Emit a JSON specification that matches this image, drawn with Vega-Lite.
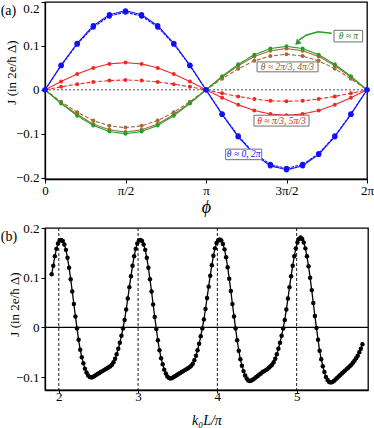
{
  "$schema": "https://vega.github.io/schema/vega-lite/v6.json",
  "padding": 0,
  "spacing": 4,
  "config": {
    "font": "Liberation Serif",
    "view": {"stroke": "black", "strokeWidth": 1.3},
    "axis": {"labelFont": "Liberation Serif", "titleFont": "Liberation Serif", "labelFontSize": 13, "titleFontWeight": "normal", "domainColor": "black", "domainWidth": 1.3, "tickColor": "black", "tickSize": 4, "labelColor": "black", "titleColor": "black", "grid": false, "labelFlush": false}
  },
  "vconcat": [
    {
      "width": 322,
      "height": 177,
      "layer": [
        {
          "data": {"values": [{"phi": 0, "J": 0}, {"phi": 2, "J": 0}]},
          "mark": {"type": "line", "color": "#888888", "strokeDash": [2, 2], "strokeWidth": 1.5},
          "encoding": {
            "x": {"field": "phi", "type": "quantitative", "scale": {"domain": [0, 2], "nice": false},
                  "axis": {"values": [0, 0.5, 1, 1.5, 2], "labelExpr": "datum.value == 0 ? '0' : datum.value == 0.5 ? 'π/2' : datum.value == 1 ? 'π' : datum.value == 1.5 ? '3π/2' : '2π'", "title": "ϕ", "titleFontSize": 18, "titleFontStyle": "italic", "titlePadding": 1, "labelPadding": 1}},
            "y": {"field": "J", "type": "quantitative", "scale": {"domain": [-0.203, 0.2], "nice": false},
                  "axis": {"values": [-0.2, -0.1, 0, 0.1, 0.2], "format": ".1~f", "title": "J (in 2e/ħ Δ)", "titleFontSize": 13, "titleY": 70, "titleX": -27, "titleBaseline": "bottom", "labelPadding": 2, "labelFlush": 0.5}}
          }
        },
        {
          "data": {"name": "curves"},
          "transform": [{"fold": ["bs", "bd", "rs", "rd", "ns", "nd", "g"], "as": ["series", "J"]}],
          "layer": [
            {
              "mark": {"type": "line", "strokeWidth": 1.1},
              "encoding": {
                "x": {"field": "phi", "type": "quantitative"},
                "y": {"field": "J", "type": "quantitative"},
                "color": {"field": "series", "type": "nominal", "scale": {"domain": ["ns", "nd", "g", "rs", "rd", "bs", "bd"], "range": ["#a36b3a", "#a36b3a", "#22a022", "#f02828", "#f02828", "#1010ff", "#1010ff"]}, "legend": null},
                "strokeDash": {"field": "series", "type": "nominal", "scale": {"domain": ["ns", "nd", "g", "rs", "rd", "bs", "bd"], "range": [[1, 0], [4, 2], [1, 0], [1, 0], [4, 2], [1, 0], [3, 1]]}, "legend": null}
              }
            },
            {
              "transform": [{"filter": "datum.series != 'bs' && datum.series != 'bd'"}],
              "mark": {"type": "circle", "size": 16, "opacity": 1},
              "encoding": {
                "x": {"field": "phi", "type": "quantitative"},
                "y": {"field": "J", "type": "quantitative"},
                "color": {"field": "series", "type": "nominal", "legend": null}
              }
            },
            {
              "transform": [{"filter": "datum.series == 'bs' || datum.series == 'bd'"}],
              "mark": {"type": "circle", "size": 28, "opacity": 1},
              "encoding": {
                "x": {"field": "phi", "type": "quantitative"},
                "y": {"field": "J", "type": "quantitative"},
                "color": {"field": "series", "type": "nominal", "legend": null}
              }
            }
          ]
        },
        {
          "data": {"values": [{"phi": 1.781, "J": 0.1288}, {"phi": 1.696, "J": 0.132}, {"phi": 1.621, "J": 0.1243}, {"phi": 1.578, "J": 0.113}]},
          "mark": {"type": "line", "color": "#22a022", "strokeWidth": 1.5},
          "encoding": {"x": {"field": "phi", "type": "quantitative"}, "y": {"field": "J", "type": "quantitative"}}
        },
        {
          "data": {"values": [{"phi": 1.567, "J": 0.107}]},
          "mark": {"type": "point", "shape": "triangle-up", "filled": true, "color": "#22a022", "size": 45, "angle": 225, "opacity": 1},
          "encoding": {"x": {"field": "phi", "type": "quantitative"}, "y": {"field": "J", "type": "quantitative"}}
        },
        {
          "data": {"name": "boxes"},
          "mark": {"type": "rect", "fill": "white", "stroke": "#707070", "strokeWidth": 1},
          "encoding": {
            "x": {"field": "phi", "type": "quantitative"},
            "x2": {"field": "phi2"},
            "y": {"field": "J", "type": "quantitative"},
            "y2": {"field": "J2"}
          }
        },
        {
          "data": {"name": "boxes"},
          "mark": {"type": "text", "font": "Liberation Serif", "fontStyle": "italic", "fontSize": 9.5, "align": "center", "baseline": "middle"},
          "encoding": {
            "x": {"field": "tphi", "type": "quantitative"},
            "y": {"field": "tJ", "type": "quantitative"},
            "text": {"field": "label"},
            "color": {"field": "tcolor", "type": "nominal", "scale": null}
          }
        },
        {
          "data": {"values": [{"phi": -0.227, "J": 0.18, "label": "(a)"}]},
          "mark": {"type": "text", "font": "Liberation Serif", "fontSize": 14, "color": "black", "align": "center", "baseline": "middle"},
          "encoding": {"x": {"field": "phi", "type": "quantitative"}, "y": {"field": "J", "type": "quantitative"}, "text": {"field": "label"}}
        }
      ]
    },
    {
      "width": 323,
      "height": 162,
      "layer": [
        {
          "data": {"values": [{"k": 1.826, "J": 0}, {"k": 5.9, "J": 0}]},
          "mark": {"type": "line", "color": "black", "strokeWidth": 1.2},
          "encoding": {
            "x": {"field": "k", "type": "quantitative", "scale": {"domain": [1.826, 5.9], "nice": false, "zero": false},
                  "axis": {"values": [2, 3, 4, 5], "format": "d", "title": "k₀L/π", "titleFontSize": 14, "titleFontStyle": "italic", "titlePadding": 10, "labelPadding": -3, "tickSize": 3}},
            "y": {"field": "J", "type": "quantitative", "scale": {"domain": [-0.126, 0.2], "nice": false},
                  "axis": {"values": [-0.1, 0, 0.1, 0.2], "format": ".1~f", "title": "J (in 2e/ħ Δ)", "titleFontSize": 13, "titleY": 76, "titleX": -24, "titleBaseline": "bottom", "labelPadding": 2}}
          }
        },
        {
          "data": {"values": [{"k": 2}, {"k": 3}, {"k": 4}, {"k": 5}]},
          "mark": {"type": "rule", "color": "black", "strokeDash": [3, 2], "strokeWidth": 0.9},
          "encoding": {"x": {"field": "k", "type": "quantitative"}}
        },
        {
          "data": {"name": "sweep"},
          "mark": {"type": "line", "color": "black", "strokeWidth": 1.3},
          "encoding": {"x": {"field": "k", "type": "quantitative"}, "y": {"field": "J", "type": "quantitative"}}
        },
        {
          "data": {"name": "sweep"},
          "mark": {"type": "circle", "color": "black", "size": 20, "opacity": 1},
          "encoding": {"x": {"field": "k", "type": "quantitative"}, "y": {"field": "J", "type": "quantitative"}}
        },
        {
          "data": {"values": [{"k": 1.372, "J": 0.181, "label": "(b)"}]},
          "mark": {"type": "text", "font": "Liberation Serif", "fontSize": 14, "color": "black", "align": "center", "baseline": "middle"},
          "encoding": {"x": {"field": "k", "type": "quantitative"}, "y": {"field": "J", "type": "quantitative"}, "text": {"field": "label"}}
        }
      ]
    }
  ],
  "datasets": {
    "curves": [
      {"phi": 0.0, "bs": 0, "bd": 0, "rs": 0, "rd": 0, "ns": 0, "nd": 0, "g": 0},
      {"phi": 0.1, "bs": 0.056, "bd": 0.055, "rs": 0.019, "rd": 0.007, "ns": -0.030, "nd": -0.027, "g": -0.031},
      {"phi": 0.2, "bs": 0.106, "bd": 0.104, "rs": 0.036, "rd": 0.013, "ns": -0.056, "nd": -0.051, "g": -0.059},
      {"phi": 0.3, "bs": 0.146, "bd": 0.143, "rs": 0.050, "rd": 0.018, "ns": -0.078, "nd": -0.070, "g": -0.081},
      {"phi": 0.4, "bs": 0.171, "bd": 0.168, "rs": 0.059, "rd": 0.021, "ns": -0.091, "nd": -0.082, "g": -0.095},
      {"phi": 0.5, "bs": 0.180, "bd": 0.177, "rs": 0.062, "rd": 0.0225, "ns": -0.096, "nd": -0.086, "g": -0.100},
      {"phi": 0.6, "bs": 0.171, "bd": 0.168, "rs": 0.059, "rd": 0.021, "ns": -0.091, "nd": -0.082, "g": -0.095},
      {"phi": 0.7, "bs": 0.146, "bd": 0.143, "rs": 0.050, "rd": 0.018, "ns": -0.078, "nd": -0.070, "g": -0.081},
      {"phi": 0.8, "bs": 0.106, "bd": 0.104, "rs": 0.036, "rd": 0.013, "ns": -0.056, "nd": -0.051, "g": -0.059},
      {"phi": 0.9, "bs": 0.056, "bd": 0.055, "rs": 0.019, "rd": 0.007, "ns": -0.030, "nd": -0.027, "g": -0.031},
      {"phi": 1.0, "bs": 0, "bd": 0, "rs": 0, "rd": 0, "ns": 0, "nd": 0, "g": 0},
      {"phi": 1.1, "bs": -0.056, "bd": -0.055, "rs": -0.018, "rd": -0.008, "ns": 0.029, "nd": 0.025, "g": 0.031},
      {"phi": 1.2, "bs": -0.107, "bd": -0.105, "rs": -0.034, "rd": -0.015, "ns": 0.055, "nd": 0.048, "g": 0.058},
      {"phi": 1.3, "bs": -0.147, "bd": -0.145, "rs": -0.047, "rd": -0.021, "ns": 0.076, "nd": 0.066, "g": 0.080},
      {"phi": 1.4, "bs": -0.173, "bd": -0.170, "rs": -0.055, "rd": -0.025, "ns": 0.089, "nd": 0.077, "g": 0.094},
      {"phi": 1.5, "bs": -0.182, "bd": -0.179, "rs": -0.058, "rd": -0.026, "ns": 0.094, "nd": 0.081, "g": 0.099},
      {"phi": 1.6, "bs": -0.173, "bd": -0.170, "rs": -0.055, "rd": -0.025, "ns": 0.089, "nd": 0.077, "g": 0.094},
      {"phi": 1.7, "bs": -0.147, "bd": -0.145, "rs": -0.047, "rd": -0.021, "ns": 0.076, "nd": 0.066, "g": 0.080},
      {"phi": 1.8, "bs": -0.107, "bd": -0.105, "rs": -0.034, "rd": -0.015, "ns": 0.055, "nd": 0.048, "g": 0.058},
      {"phi": 1.9, "bs": -0.056, "bd": -0.055, "rs": -0.018, "rd": -0.008, "ns": 0.029, "nd": 0.025, "g": 0.031},
      {"phi": 2.0, "bs": 0, "bd": 0, "rs": 0, "rd": 0, "ns": 0, "nd": 0, "g": 0}
    ],
    "boxes": [
      {"phi": 1.795, "phi2": 1.973, "J": 0.109, "J2": 0.1355, "tphi": 1.884, "tJ": 0.122, "label": "θ ≈ π", "tcolor": "#1a7a1a"},
      {"phi": 1.317, "phi2": 1.696, "J": 0.041, "J2": 0.0636, "tphi": 1.506, "tJ": 0.052, "label": "θ ≈ 2π/3, 4π/3", "tcolor": "#8a5a2a"},
      {"phi": 1.298, "phi2": 1.640, "J": -0.0825, "J2": -0.0578, "tphi": 1.469, "tJ": -0.070, "label": "θ ≈ π/3, 5π/3", "tcolor": "#e02020"},
      {"phi": 1.122, "phi2": 1.346, "J": -0.159, "J2": -0.135, "tphi": 1.234, "tJ": -0.147, "label": "θ ≈ 0, 2π", "tcolor": "#1010ff"}
    ],
    "sweep": [
      {"k": 1.91, "J": 0.107}, {"k": 1.93, "J": 0.124}, {"k": 1.95, "J": 0.143}, {"k": 1.97, "J": 0.158}, {"k": 1.99, "J": 0.169},
      {"k": 2.01, "J": 0.175}, {"k": 2.03, "J": 0.176}, {"k": 2.05, "J": 0.174}, {"k": 2.07, "J": 0.167}, {"k": 2.09, "J": 0.156},
      {"k": 2.11, "J": 0.140}, {"k": 2.13, "J": 0.120}, {"k": 2.15, "J": 0.097}, {"k": 2.17, "J": 0.072}, {"k": 2.19, "J": 0.047},
      {"k": 2.21, "J": 0.022}, {"k": 2.23, "J": -0.002}, {"k": 2.25, "J": -0.025}, {"k": 2.27, "J": -0.045}, {"k": 2.29, "J": -0.060},
      {"k": 2.31, "J": -0.072}, {"k": 2.33, "J": -0.083}, {"k": 2.35, "J": -0.091}, {"k": 2.37, "J": -0.097}, {"k": 2.39, "J": -0.100},
      {"k": 2.41, "J": -0.101}, {"k": 2.43, "J": -0.100}, {"k": 2.45, "J": -0.098}, {"k": 2.47, "J": -0.096}, {"k": 2.49, "J": -0.094},
      {"k": 2.51, "J": -0.092}, {"k": 2.53, "J": -0.090}, {"k": 2.55, "J": -0.088}, {"k": 2.57, "J": -0.086}, {"k": 2.59, "J": -0.084},
      {"k": 2.61, "J": -0.082}, {"k": 2.63, "J": -0.080}, {"k": 2.65, "J": -0.078}, {"k": 2.67, "J": -0.075}, {"k": 2.69, "J": -0.070},
      {"k": 2.71, "J": -0.063}, {"k": 2.73, "J": -0.054}, {"k": 2.75, "J": -0.043}, {"k": 2.77, "J": -0.031}, {"k": 2.79, "J": -0.017},
      {"k": 2.81, "J": -0.002}, {"k": 2.83, "J": 0.015}, {"k": 2.85, "J": 0.036}, {"k": 2.87, "J": 0.058}, {"k": 2.89, "J": 0.081},
      {"k": 2.91, "J": 0.103}, {"k": 2.93, "J": 0.124}, {"k": 2.95, "J": 0.143}, {"k": 2.97, "J": 0.158}, {"k": 2.99, "J": 0.169},
      {"k": 3.01, "J": 0.175}, {"k": 3.03, "J": 0.176}, {"k": 3.05, "J": 0.174}, {"k": 3.07, "J": 0.167}, {"k": 3.09, "J": 0.156},
      {"k": 3.11, "J": 0.140}, {"k": 3.13, "J": 0.120}, {"k": 3.15, "J": 0.097}, {"k": 3.17, "J": 0.072}, {"k": 3.19, "J": 0.046},
      {"k": 3.21, "J": 0.021}, {"k": 3.23, "J": -0.003}, {"k": 3.25, "J": -0.026}, {"k": 3.27, "J": -0.046}, {"k": 3.29, "J": -0.062},
      {"k": 3.31, "J": -0.074}, {"k": 3.33, "J": -0.085}, {"k": 3.35, "J": -0.093}, {"k": 3.37, "J": -0.099}, {"k": 3.39, "J": -0.102},
      {"k": 3.41, "J": -0.103}, {"k": 3.43, "J": -0.102}, {"k": 3.45, "J": -0.100}, {"k": 3.47, "J": -0.098}, {"k": 3.49, "J": -0.096},
      {"k": 3.51, "J": -0.094}, {"k": 3.53, "J": -0.092}, {"k": 3.55, "J": -0.090}, {"k": 3.57, "J": -0.088}, {"k": 3.59, "J": -0.086},
      {"k": 3.61, "J": -0.084}, {"k": 3.63, "J": -0.082}, {"k": 3.65, "J": -0.080}, {"k": 3.67, "J": -0.077}, {"k": 3.69, "J": -0.073},
      {"k": 3.71, "J": -0.066}, {"k": 3.73, "J": -0.057}, {"k": 3.75, "J": -0.046}, {"k": 3.77, "J": -0.033}, {"k": 3.79, "J": -0.018},
      {"k": 3.81, "J": -0.002}, {"k": 3.83, "J": 0.016}, {"k": 3.85, "J": 0.037}, {"k": 3.87, "J": 0.059}, {"k": 3.89, "J": 0.082},
      {"k": 3.91, "J": 0.104}, {"k": 3.93, "J": 0.125}, {"k": 3.95, "J": 0.144}, {"k": 3.97, "J": 0.159}, {"k": 3.99, "J": 0.170},
      {"k": 4.01, "J": 0.175}, {"k": 4.03, "J": 0.177}, {"k": 4.05, "J": 0.175}, {"k": 4.07, "J": 0.168}, {"k": 4.09, "J": 0.157},
      {"k": 4.11, "J": 0.141}, {"k": 4.13, "J": 0.121}, {"k": 4.15, "J": 0.098}, {"k": 4.17, "J": 0.073}, {"k": 4.19, "J": 0.047},
      {"k": 4.21, "J": 0.022}, {"k": 4.23, "J": -0.002}, {"k": 4.25, "J": -0.026}, {"k": 4.27, "J": -0.047}, {"k": 4.29, "J": -0.064},
      {"k": 4.31, "J": -0.077}, {"k": 4.33, "J": -0.088}, {"k": 4.35, "J": -0.097}, {"k": 4.37, "J": -0.103}, {"k": 4.39, "J": -0.107},
      {"k": 4.41, "J": -0.108}, {"k": 4.43, "J": -0.107}, {"k": 4.45, "J": -0.105}, {"k": 4.47, "J": -0.103}, {"k": 4.49, "J": -0.100},
      {"k": 4.51, "J": -0.098}, {"k": 4.53, "J": -0.095}, {"k": 4.55, "J": -0.093}, {"k": 4.57, "J": -0.090}, {"k": 4.59, "J": -0.088},
      {"k": 4.61, "J": -0.086}, {"k": 4.63, "J": -0.084}, {"k": 4.65, "J": -0.081}, {"k": 4.67, "J": -0.078}, {"k": 4.69, "J": -0.075},
      {"k": 4.71, "J": -0.070}, {"k": 4.73, "J": -0.063}, {"k": 4.75, "J": -0.054}, {"k": 4.77, "J": -0.043}, {"k": 4.79, "J": -0.031},
      {"k": 4.81, "J": -0.017}, {"k": 4.83, "J": -0.002}, {"k": 4.85, "J": 0.015}, {"k": 4.87, "J": 0.036}, {"k": 4.89, "J": 0.058},
      {"k": 4.91, "J": 0.081}, {"k": 4.93, "J": 0.103}, {"k": 4.95, "J": 0.124}, {"k": 4.97, "J": 0.143}, {"k": 4.99, "J": 0.159},
      {"k": 5.01, "J": 0.171}, {"k": 5.03, "J": 0.178}, {"k": 5.05, "J": 0.181}, {"k": 5.07, "J": 0.178}, {"k": 5.09, "J": 0.171},
      {"k": 5.11, "J": 0.159}, {"k": 5.13, "J": 0.143}, {"k": 5.15, "J": 0.123}, {"k": 5.17, "J": 0.100}, {"k": 5.19, "J": 0.075},
      {"k": 5.21, "J": 0.049}, {"k": 5.23, "J": 0.023}, {"k": 5.25, "J": -0.001}, {"k": 5.27, "J": -0.025}, {"k": 5.29, "J": -0.047},
      {"k": 5.31, "J": -0.064}, {"k": 5.33, "J": -0.078}, {"k": 5.35, "J": -0.090}, {"k": 5.37, "J": -0.100}, {"k": 5.39, "J": -0.106},
      {"k": 5.41, "J": -0.110}, {"k": 5.43, "J": -0.111}, {"k": 5.45, "J": -0.110}, {"k": 5.47, "J": -0.108}, {"k": 5.49, "J": -0.105},
      {"k": 5.51, "J": -0.102}, {"k": 5.53, "J": -0.099}, {"k": 5.55, "J": -0.096}, {"k": 5.57, "J": -0.093}, {"k": 5.59, "J": -0.090},
      {"k": 5.61, "J": -0.087}, {"k": 5.63, "J": -0.084}, {"k": 5.65, "J": -0.081}, {"k": 5.67, "J": -0.078}, {"k": 5.69, "J": -0.075},
      {"k": 5.71, "J": -0.071}, {"k": 5.73, "J": -0.067}, {"k": 5.75, "J": -0.062}, {"k": 5.77, "J": -0.057}, {"k": 5.79, "J": -0.050},
      {"k": 5.81, "J": -0.043}, {"k": 5.83, "J": -0.034}
    ]
  }
}
